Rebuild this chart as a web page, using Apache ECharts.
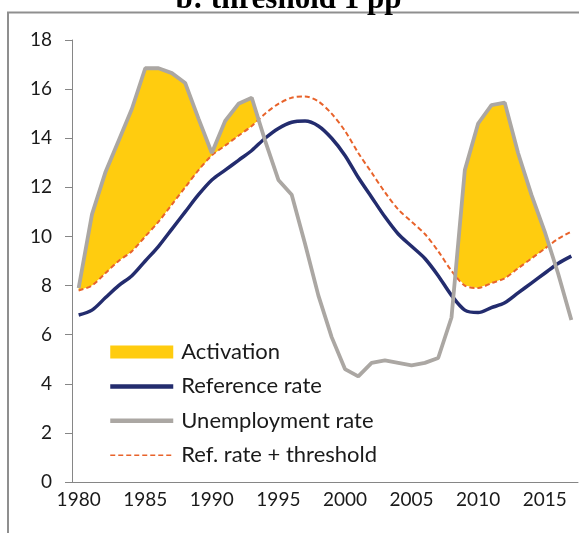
<!DOCTYPE html>
<html>
<head>
<meta charset="utf-8">
<script src="https://cdn.jsdelivr.net/npm/echarts@6/dist/echarts.min.js"></script>
<style>
html,body{margin:0;padding:0;background:#fff;}
#chart{width:579px;height:533px;}
</style>
</head>
<body>
<div id="chart"></div>
<script>
// ---- Data ----
const years = [1980,1981,1982,1983,1984,1985,1986,1987,1988,1989,1990,1991,1992,1993,1994,1995,1996,1997,1998,1999,2000,2001,2002,2003,2004,2005,2006,2007,2008,2009,2010,2011,2012,2013,2014,2015,2016,2017];
const referenceRate = [6.8,7.0,7.5,8.0,8.4,9.0,9.6,10.3,11.0,11.7,12.3,12.7,13.1,13.5,14.0,14.4,14.65,14.7,14.5,14.0,13.3,12.4,11.6,10.8,10.1,9.6,9.1,8.4,7.6,7.0,6.9,7.1,7.3,7.7,8.1,8.5,8.9,9.2];
const refPlusThreshold = [7.8,8.0,8.5,9.0,9.4,10.0,10.6,11.3,12.0,12.7,13.3,13.7,14.1,14.5,15.0,15.4,15.65,15.7,15.5,15.0,14.3,13.4,12.6,11.8,11.1,10.6,10.1,9.4,8.6,8.0,7.9,8.1,8.3,8.7,9.1,9.5,9.9,10.2];
const unemploymentRate = [7.9,10.9,12.6,13.9,15.2,16.85,16.85,16.65,16.25,14.8,13.4,14.7,15.4,15.65,13.9,12.3,11.7,9.7,7.6,5.9,4.6,4.3,4.85,4.95,4.85,4.75,4.85,5.05,6.7,12.7,14.6,15.35,15.45,13.4,11.7,10.2,8.5,6.6];
const yTicks = {min: 0, max: 18, interval: 2};
const seriesNames = ['Activation','Reference rate','Unemployment rate','Ref. rate + threshold'];
const titleText = 'b: threshold 1 pp';

const YELLOW = '#FFCC0F', NAVY = '#232C6E', GREY = '#ABA7A3', RED = '#E8632B';
const FONT = 'Lato';

const chart = echarts.init(document.getElementById('chart'), null, {renderer: 'canvas'});

function renderActivation(params, api) {
  if (params.dataIndex !== 0) return;
  const n = years.length;
  const children = [];
  let top = [], bot = [];
  const P = (i, v) => api.coord([i, v]);
  function flush() {
    if (top.length > 1) {
      children.push({type: 'polygon', shape: {points: top.concat(bot.slice().reverse())}, style: {fill: YELLOW}});
    }
    top = []; bot = [];
  }
  function cross(i) {
    const d0 = unemploymentRate[i-1] - refPlusThreshold[i-1];
    const d1 = unemploymentRate[i] - refPlusThreshold[i];
    const t = d0 / (d0 - d1);
    const a0 = P(i-1, unemploymentRate[i-1]), a1 = P(i, unemploymentRate[i]);
    return [a0[0] + (a1[0]-a0[0])*t, a0[1] + (a1[1]-a0[1])*t];
  }
  for (let i = 0; i < n; i++) {
    const d = unemploymentRate[i] - refPlusThreshold[i];
    if (d >= 0) {
      if (i > 0 && unemploymentRate[i-1] - refPlusThreshold[i-1] < 0) {
        const c = cross(i); top.push(c); bot.push(c);
      }
      top.push(P(i, unemploymentRate[i]));
      bot.push(P(i, refPlusThreshold[i]));
    } else if (top.length) {
      const c = cross(i); top.push(c); bot.push(c); flush();
    }
  }
  flush();
  return {type: 'group', children: children};
}

const option = {
  animation: false,
  backgroundColor: '#ffffff',
  grid: {left: 72, right: 1, top: 40, bottom: 51, containLabel: false},
  graphic: [
    {type: 'rect', z: -10, shape: {x: 8, y: 12.5, width: 700, height: 700}, style: {fill: 'none', stroke: '#8f8f8f', lineWidth: 2}},
    {type: 'text', x: 288.5, y: 0, style: {text: titleText, font: 'bold 31px "Liberation Serif", "Times New Roman", serif', fill: '#000', textAlign: 'center', textVerticalAlign: 'middle'}}
  ],
  legend: {
    orient: 'vertical',
    left: 103,
    top: 336,
    itemWidth: 63,
    itemHeight: 13,
    itemGap: 12.4,
    data: [
      {name: seriesNames[0], icon: 'rect'},
      {name: seriesNames[1], itemStyle: {opacity: 0}, lineStyle: {width: 4.5}},
      {name: seriesNames[2], itemStyle: {opacity: 0}, lineStyle: {width: 4.5}},
      {name: seriesNames[3], itemStyle: {opacity: 0}, lineStyle: {width: 1.5}}
    ],
    textStyle: {fontFamily: FONT, fontSize: 22, color: '#1a1a1a', lineHeight: 22, padding: [0,0,0,3]},
    selectedMode: false
  },
  xAxis: {
    type: 'category',
    data: years,
    boundaryGap: true,
    axisLine: {lineStyle: {color: '#868686', width: 1}},
    axisTick: {interval: 0, length: 5, lineStyle: {color: '#868686'}},
    axisLabel: {interval: 4, margin: 8, fontFamily: FONT, fontSize: 19, color: '#1a1a1a'},
    splitLine: {show: false}
  },
  yAxis: {
    type: 'value',
    min: yTicks.min, max: yTicks.max, interval: yTicks.interval,
    axisLine: {show: true, lineStyle: {color: '#868686', width: 1}},
    axisTick: {show: true, length: 7, lineStyle: {color: '#868686'}},
    axisLabel: {margin: 20, fontFamily: FONT, fontSize: 19, color: '#1a1a1a'},
    splitLine: {show: false}
  },
  series: [
    {
      name: seriesNames[0], type: 'custom', data: [[0, 0]],
      renderItem: renderActivation, itemStyle: {color: YELLOW}, z: 1, silent: true
    },
    {
      name: seriesNames[1], type: 'line', data: referenceRate, smooth: 0.3,
      symbol: 'none', lineStyle: {color: NAVY, width: 3.5}, itemStyle: {color: NAVY}, z: 3
    },
    {
      name: seriesNames[3], type: 'line', data: refPlusThreshold, smooth: 0.3,
      symbol: 'none', lineStyle: {color: RED, width: 2, type: [5, 3]}, itemStyle: {color: RED}, z: 4
    },
    {
      name: seriesNames[2], type: 'line', data: unemploymentRate,
      symbol: 'none', lineStyle: {color: GREY, width: 3.8}, itemStyle: {color: GREY}, z: 5
    }
  ]
};
chart.setOption(option);
</script>
</body>
</html>
